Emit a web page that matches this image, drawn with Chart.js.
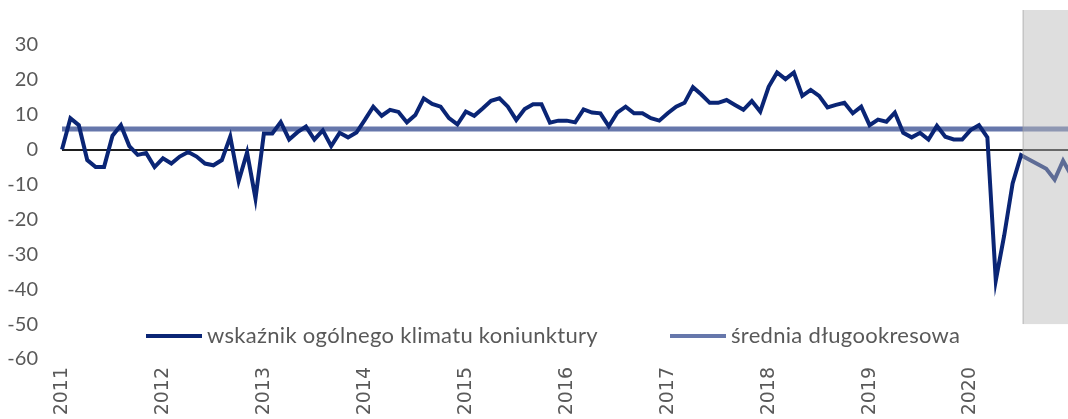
<!DOCTYPE html>
<html lang="pl">
<head>
<meta charset="utf-8">
<title>Wskaźnik ogólnego klimatu koniunktury</title>
<script src="https://cdn.jsdelivr.net/npm/chart.js@4.4.1/dist/chart.umd.min.js"></script>
<style>
  html, body { margin: 0; padding: 0; background: #fff; overflow: hidden; }
  #wrap { position: absolute; left: 0; top: 0; width: 1080px; height: 419px; }
</style>
</head>
<body>
<div id="wrap"><canvas id="myChart"></canvas></div>
<script>
// miesiące od stycznia 2011 do stycznia 2021 (ostatni punkt ucięty przy prawej krawędzi)
const years = ['2011', '2012', '2013', '2014', '2015', '2016', '2017', '2018', '2019', '2020', '2021'];

const climate2011 = [0, 9, 7, -3, -5, -5, 4, 7, 1, -1.5, -1, -5];
const climate2012 = [-2.5, -4, -2, -0.7, -2, -4, -4.5, -3, 3.7, -9, -0.8, -14];
const climate2013 = [4.6, 4.6, 7.9, 2.9, 5, 6.6, 2.9, 5.5, 1, 4.8, 3.5, 4.9];
const climate2014 = [8.5, 12.3, 9.7, 11.4, 10.8, 7.8, 9.9, 14.7, 13.1, 12.3, 9, 7.2];
const climate2015 = [10.9, 9.7, 11.8, 14, 14.7, 12.3, 8.5, 11.6, 13, 13, 7.7, 8.3];
const climate2016 = [8.3, 7.8, 11.5, 10.6, 10.4, 6.7, 10.6, 12.3, 10.4, 10.4, 9, 8.3];
const climate2017 = [10.4, 12.3, 13.4, 17.9, 15.8, 13.4, 13.4, 14.2, 12.8, 11.4, 13.9, 10.9];
const climate2018 = [18, 22.1, 20.2, 22.1, 15.4, 17.1, 15.4, 12.1, 12.8, 13.4, 10.4, 12.3];
const climate2019 = [7, 8.6, 8, 10.6, 4.8, 3.5, 4.8, 2.9, 6.8, 3.7, 2.9, 2.9];
const climate2020 = [5.6, 7, 3.5, -37.5, -24.6, -9.7, -1.6, -2.9, -4.2, -5.5, -8.6, -3.2];
const climate2021 = [-7.5];

const climateIndex = [].concat(climate2011, climate2012, climate2013, climate2014, climate2015,
  climate2016, climate2017, climate2018, climate2019, climate2020, climate2021);

// średnia długookresowa – stały poziom
const longTermAverage = 5.9;

const yTicks = [40, 30, 20, 10, 0, -10, -20, -30, -40, -50, -60];

// zacieniony okres (od lipca 2020)
const shadeFromIndex = 114;

const monthLabels = [];
years.forEach(function (y) {
  for (let m = 1; m <= 12; m++) {
    if (monthLabels.length < climateIndex.length) {
      monthLabels.push(y + '-' + (m < 10 ? '0' + m : m));
    }
  }
});

const avgSeries = monthLabels.map(function () { return longTermAverage; });

const NAVY = '#0a2575';
const AVG = '#6677ab';
const TEXT = '#595959';

const shadePlugin = {
  id: 'shade',
  afterDatasetsDraw(chart) {
    const c = chart.ctx;
    const xs = chart.scales.x, ys = chart.scales.y;
    const step = xs.getPixelForValue(shadeFromIndex + 1) - xs.getPixelForValue(shadeFromIndex);
    const x0 = xs.getPixelForValue(shadeFromIndex) + step * 0.25;
    const yTop = ys.getPixelForValue(40);
    const yBot = ys.getPixelForValue(-50);
    c.save();
    c.fillStyle = 'rgba(187,187,187,0.48)';
    c.fillRect(x0, yTop, chart.width - x0, yBot - yTop);
    c.strokeStyle = 'rgba(160,160,160,0.5)';
    c.lineWidth = 1.5;
    c.beginPath();
    c.moveTo(x0, yTop);
    c.lineTo(x0, yBot);
    c.stroke();
    c.restore();
  }
};

const legendPlugin = {
  id: 'innerLegend',
  afterDraw(chart) {
    const c = chart.ctx;
    const y = 336;
    const items = [
      { x: 146, color: NAVY, text: 'wskaźnik ogólnego klimatu koniunktury' },
      { x: 670, color: AVG, text: 'średnia długookresowa' }
    ];
    c.save();
    c.font = '22px Lato, "Open Sans", sans-serif';
    c.letterSpacing = '0.3px';
    c.textBaseline = 'middle';
    c.fillStyle = TEXT;
    items.forEach(function (it) {
      c.strokeStyle = it.color;
      c.lineWidth = 4;
      c.beginPath();
      c.moveTo(it.x, y);
      c.lineTo(it.x + 56, y);
      c.stroke();
      c.fillText(it.text, it.x + 61, y);
    });
    c.restore();
  }
};

const ctx = document.getElementById('myChart');

new Chart(ctx, {
  type: 'line',
  data: {
    labels: monthLabels,
    datasets: [{
      label: 'wskaźnik ogólnego klimatu koniunktury',
      data: climateIndex,
      borderColor: NAVY,
      borderWidth: 4,
      pointRadius: 0,
      tension: 0,
      fill: false
    }, {
      label: 'średnia długookresowa',
      data: avgSeries,
      borderColor: AVG,
      borderWidth: 5,
      pointRadius: 0,
      tension: 0,
      fill: false
    }]
  },
  options: {
    responsive: true,
    maintainAspectRatio: false,
    animation: false,
    layout: { padding: { top: 10, right: 8.5, left: 0, bottom: 0 } },
    plugins: {
      legend: { display: false },
      tooltip: { enabled: false }
    },
    scales: {
      x: {
        grid: { display: false, drawTicks: false },
        border: { display: false },
        afterFit(scale) {
          scale.height = 60;
          scale.paddingLeft = 0;
          scale.paddingRight = 0;
        },
        ticks: {
          autoSkip: false,
          maxRotation: 90,
          minRotation: 90,
          padding: 8,
          color: TEXT,
          font: { family: '"DejaVu Sans"', size: 19 },
          callback(value, index) {
            const label = monthLabels[index];
            if (index < 120 && label.endsWith('-01')) return label.slice(0, 4);
            return '';
          }
        }
      },
      y: {
        min: -60,
        max: 40,
        afterFit(scale) {
          scale.width = 62;
          scale.paddingTop = 0;
          scale.paddingBottom = 0;
        },
        afterBuildTicks(scale) { scale.ticks = yTicks.map(function (v) { return { value: v }; }); },
        border: { display: false },
        grid: {
          drawTicks: false,
          lineWidth: 2,
          color(c) { return c.tick && c.tick.value === 0 ? '#1e1e1e' : 'rgba(0,0,0,0)'; }
        },
        ticks: {
          padding: 24,
          color: TEXT,
          font: { family: 'Lato, "Open Sans", sans-serif', size: 20 },
          callback(value) { return value === 40 ? '' : value; }
        }
      }
    }
  },
  plugins: [shadePlugin, legendPlugin]
});
</script>
</body>
</html>
